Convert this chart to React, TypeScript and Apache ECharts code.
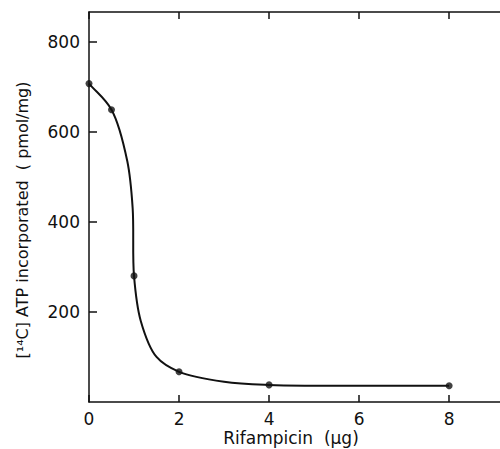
import React, { useEffect, useRef } from "react";
import * as echarts from "echarts";

const xTickValues = [0, 2, 4, 6, 8];
const yTickValues = [200, 400, 600, 800];
const doseUg = [0, 0.5, 1, 2, 4, 8];
const atpIncorporated = [707, 649, 280, 67, 38, 36];
// fitted curve as drawn in the figure
const curveX = [0, 0.5, 0.85, 0.97, 1.0, 1.15, 1.5, 2, 3, 4, 8];
const curveY = [707, 649, 535, 430, 280, 180, 100, 67, 45, 38, 36];

const FONT = "'DejaVu Sans', sans-serif";
const INK = "#111";

function catmullRomPath(pts: number[][]): string {
  if (pts.length < 2) return "";
  let d = `M${pts[0][0]},${pts[0][1]}`;
  const alpha = 0.5;
  const dist = (a: number[], b: number[]) => Math.max(1e-6, Math.pow(Math.hypot(b[0] - a[0], b[1] - a[1]), alpha));
  for (let i = 0; i < pts.length - 1; i++) {
    const p1 = pts[i];
    const p2 = pts[i + 1];
    const q0 = i === 0 ? [2 * p1[0] - p2[0], 2 * p1[1] - p2[1]] : pts[i - 1];
    const q3 = i + 2 >= pts.length ? [2 * p2[0] - p1[0], 2 * p2[1] - p1[1]] : pts[i + 2];
    const d1 = dist(q0, p1);
    const d2 = dist(p1, p2);
    const d3 = dist(p2, q3);
    const b1 = [0, 1].map(
      (k) => (d1 * d1 * p2[k] - d2 * d2 * q0[k] + (2 * d1 * d1 + 3 * d1 * d2 + d2 * d2) * p1[k]) / (3 * d1 * (d1 + d2))
    );
    const b2 = [0, 1].map(
      (k) => (d3 * d3 * p1[k] - d2 * d2 * q3[k] + (2 * d3 * d3 + 3 * d3 * d2 + d2 * d2) * p2[k]) / (3 * d3 * (d3 + d2))
    );
    d += ` C${b1[0]},${b1[1]} ${b2[0]},${b2[1]} ${p2[0]},${p2[1]}`;
  }
  return d;
}

export default function App() {
  const ref = useRef<HTMLDivElement>(null);
  useEffect(() => {
    if (!ref.current) return;
    const chart = echarts.init(ref.current, null, { renderer: "svg" });
    const axisLine = { show: true, onZero: false, lineStyle: { color: INK, width: 1.5 } };
    const tick = (len: number, values: number[]) => ({
      show: true,
      inside: true,
      length: len,
      customValues: values,
      lineStyle: { color: INK, width: 1.5 },
    });
    chart.setOption({
      animation: false,
      backgroundColor: "#fff",
      grid: { left: 89, top: 12, bottom: 47, right: 0, containLabel: false },
      xAxis: [
        {
          type: "value",
          min: 0,
          max: 9.13,
          interval: 2,
          position: "bottom",
          axisLine,
          axisTick: tick(7, xTickValues),
          axisLabel: {
            color: INK,
            fontSize: 17,
            fontFamily: FONT,
            margin: 8,
            customValues: xTickValues,
          },
          splitLine: { show: false },
        },
        {
          type: "value",
          min: 0,
          max: 9.13,
          interval: 2,
          position: "top",
          axisLine,
          axisTick: tick(7, xTickValues),
          axisLabel: { show: false },
          splitLine: { show: false },
        },
      ],
      yAxis: {
        type: "value",
        min: 0,
        max: 866,
        interval: 200,
        axisLine,
        axisTick: tick(8, yTickValues),
        axisLabel: {
          color: INK,
          fontSize: 17,
          fontFamily: FONT,
          margin: 9,
          customValues: yTickValues,
        },
        splitLine: { show: false },
      },
      graphic: [
        {
          type: "text",
          x: 22,
          y: 220,
          rotation: Math.PI / 2,
          style: {
            text: "[¹⁴C] ATP incorporated  ( pmol/mg)",
            fill: INK,
            font: `16px ${FONT}`,
            align: "center",
            verticalAlign: "middle",
          },
        },
        {
          type: "text",
          x: 291,
          y: 438,
          style: {
            text: "Rifampicin  (μg)",
            fill: INK,
            font: `17px ${FONT}`,
            align: "center",
            verticalAlign: "middle",
          },
        },
      ],
      series: [
        {
          type: "custom",
          data: curveX.map((x, i) => [x, curveY[i]]),
          silent: true,
          renderItem: (params: any, api: any) => {
            if (params.dataIndex !== 0) return null;
            const pts = curveX.map((x, i) => api.coord([x, curveY[i]]));
            return {
              type: "path",
              shape: { pathData: catmullRomPath(pts) },
              style: { stroke: INK, fill: "none", lineWidth: 2 },
            };
          },
          z: 3,
        },
        {
          type: "scatter",
          data: doseUg.map((x, i) => [x, atpIncorporated[i]]),
          symbol: "circle",
          symbolSize: 7,
          itemStyle: { color: INK },
          z: 5,
        },
      ],
    });
    return () => chart.dispose();
  }, []);
  return <div ref={ref} style={{ position: "absolute", left: 0, top: 0, width: 500, height: 449 }} />;
}
